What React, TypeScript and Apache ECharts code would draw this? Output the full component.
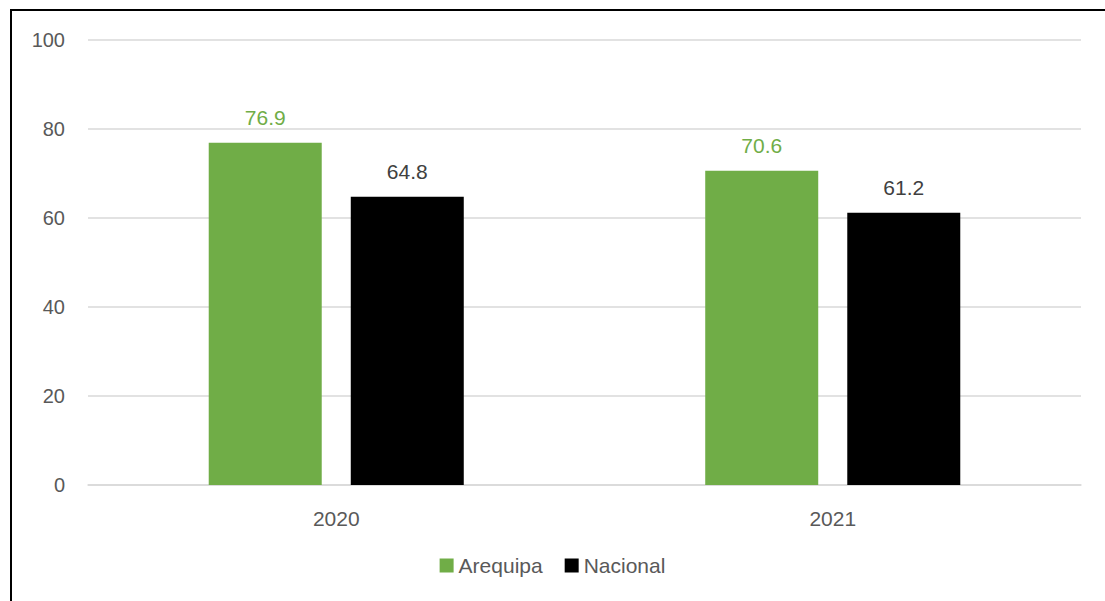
import React, { useEffect, useRef } from "react";
import * as echarts from "echarts";

const categories = ["2020", "2021"];
const arequipa = [76.9, 70.6];
const nacional = [64.8, 61.2];
const yTicks = { min: 0, max: 100, interval: 20 };

export default function App() {
  const ref = useRef<HTMLDivElement>(null);
  useEffect(() => {
    if (!ref.current) return;
    const chart = echarts.init(ref.current, null, { renderer: "svg" });
    const font = "Liberation Sans, Arial, sans-serif";
    chart.setOption({
      animation: false,
      textStyle: { fontFamily: font },
      graphic: [
        { type: "line", shape: { x1: 11, y1: 10, x2: 11, y2: 601 }, style: { stroke: "#000", lineWidth: 2 } },
        { type: "line", shape: { x1: 10, y1: 10, x2: 1105, y2: 10 }, style: { stroke: "#000", lineWidth: 2 } },
      ],
      grid: { left: 88, right: 24, top: 40, bottom: 116, containLabel: false },
      legend: {
        bottom: 20,
        left: "center",
        itemWidth: 14,
        itemHeight: 14,
        itemGap: 22,
        icon: "rect",
        textStyle: { fontSize: 21, color: "#595959", fontFamily: font },
        data: ["Arequipa", "Nacional"],
      },
      xAxis: {
        type: "category",
        data: categories,
        axisLine: { lineStyle: { color: "#d9d9d9", width: 1.5 } },
        axisTick: { show: false },
        axisLabel: { fontSize: 21, color: "#595959", margin: 23 },
      },
      yAxis: {
        type: "value",
        min: yTicks.min,
        max: yTicks.max,
        interval: yTicks.interval,
        axisLine: { show: false },
        axisTick: { show: false },
        splitLine: { lineStyle: { color: "#d9d9d9", width: 1.5 } },
        axisLabel: { fontSize: 20, color: "#595959", margin: 23 },
      },
      series: [
        {
          name: "Arequipa",
          type: "bar",
          data: arequipa,
          barWidth: 113,
          barGap: "25.7%",
          itemStyle: { color: "#70AD47" },
          label: { show: true, position: "top", fontSize: 21, color: "#70AD47", distance: 15, formatter: (p: any) => p.value.toFixed(1) },
        },
        {
          name: "Nacional",
          type: "bar",
          data: nacional,
          barWidth: 113,
          itemStyle: { color: "#000000" },
          label: { show: true, position: "top", fontSize: 21, color: "#404040", distance: 15, formatter: (p: any) => p.value.toFixed(1) },
        },
      ],
    });
    return () => chart.dispose();
  }, []);
  return <div ref={ref} style={{ width: 1105, height: 601, position: "fixed", left: 0, top: 0, background: "#fff" }} />;
}
